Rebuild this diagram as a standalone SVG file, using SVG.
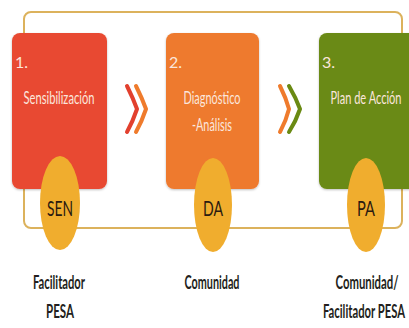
<svg xmlns="http://www.w3.org/2000/svg" width="409" height="328" viewBox="0 0 409 328">
<defs>
<style>
.frame{fill:none;stroke:#dcb25c;stroke-width:2}
.box{filter:url(#sh)}
.num{font-family:Lato,"Liberation Sans",sans-serif;font-size:16px;fill:#fbe6dc}
.lbl{font-family:Lato,"Liberation Sans",sans-serif;font-size:18px;fill:#fbe6dc;text-anchor:middle}
.abbr{font-family:Lato,"Liberation Sans",sans-serif;font-size:22px;fill:#2b1a10;text-anchor:middle}
.who{font-family:Lato,"Liberation Sans",sans-serif;font-size:18px;fill:#231f20;text-anchor:middle;font-weight:bold}
.badge{fill:#f0ad2e}
.chev{fill:none;stroke-width:4;stroke-linecap:round;stroke-linejoin:round}
</style>
<filter id="sh" x="-10%" y="-10%" width="120%" height="120%">
<feDropShadow dx="0" dy="1" stdDeviation="1" flood-color="#000" flood-opacity="0.25"/>
</filter>
</defs>
<rect width="409" height="328" fill="#ffffff"/>
<g id="connectors">
<rect class="frame" x="24" y="12" width="378" height="216" rx="7"/>
<path class="chev" stroke="#e2402e" d="M127 86 Q133 98 137 109 Q133 121 127 132"/>
<path class="chev" stroke="#ef7b2c" d="M136 86 Q142 98 146 109 Q142 121 136 132"/>
<path class="chev" stroke="#ef7b2c" d="M280 86 Q286 98 289 109 Q286 121 280 132"/>
<path class="chev" stroke="#6a8a13" stroke-width="5" d="M289 86 Q296 98 300 109 Q296 121 289 132"/>
</g>
<g id="node1">
<rect class="box" x="12" y="33" width="95" height="156" rx="8" fill="#e84a30"/>
<text class="num" x="15" y="68">1.</text>
<text class="lbl" x="59" y="104" textLength="71" lengthAdjust="spacingAndGlyphs">Sensibilización</text>
<ellipse class="badge" cx="60" cy="203" rx="20" ry="47"/>
<text class="abbr" x="60" y="216" textLength="26" lengthAdjust="spacingAndGlyphs">SEN</text>
<text class="who" x="59" y="289" textLength="52" lengthAdjust="spacingAndGlyphs">Facilitador</text>
<text class="who" x="60" y="318" textLength="28" lengthAdjust="spacingAndGlyphs">PESA</text>
</g>
<g id="node2">
<rect class="box" x="166" y="33" width="93" height="156" rx="8" fill="#ee7a2f"/>
<text class="num" x="169" y="68">2.</text>
<text class="lbl" x="212" y="104" textLength="57" lengthAdjust="spacingAndGlyphs">Diagnóstico</text>
<text class="lbl" x="212" y="131" textLength="40" lengthAdjust="spacingAndGlyphs">-Análisis</text>
<ellipse class="badge" cx="213" cy="205" rx="19" ry="47"/>
<text class="abbr" x="213" y="216" textLength="20" lengthAdjust="spacingAndGlyphs">DA</text>
<text class="who" x="212" y="289" textLength="55" lengthAdjust="spacingAndGlyphs">Comunidad</text>
</g>
<g id="node3">
<rect class="box" x="319" y="33" width="100" height="156" rx="8" fill="#6a8a13"/>
<text class="num" x="322" y="68">3.</text>
<text class="lbl" x="366" y="104" textLength="71" lengthAdjust="spacingAndGlyphs">Plan de Acción</text>
<ellipse class="badge" cx="366" cy="205" rx="19" ry="47"/>
<text class="abbr" x="366" y="216" textLength="18" lengthAdjust="spacingAndGlyphs">PA</text>
<text class="who" x="367" y="289" textLength="63" lengthAdjust="spacingAndGlyphs">Comunidad/</text>
<text class="who" x="364" y="318" textLength="82" lengthAdjust="spacingAndGlyphs">Facilitador PESA</text>
</g>
</svg>
